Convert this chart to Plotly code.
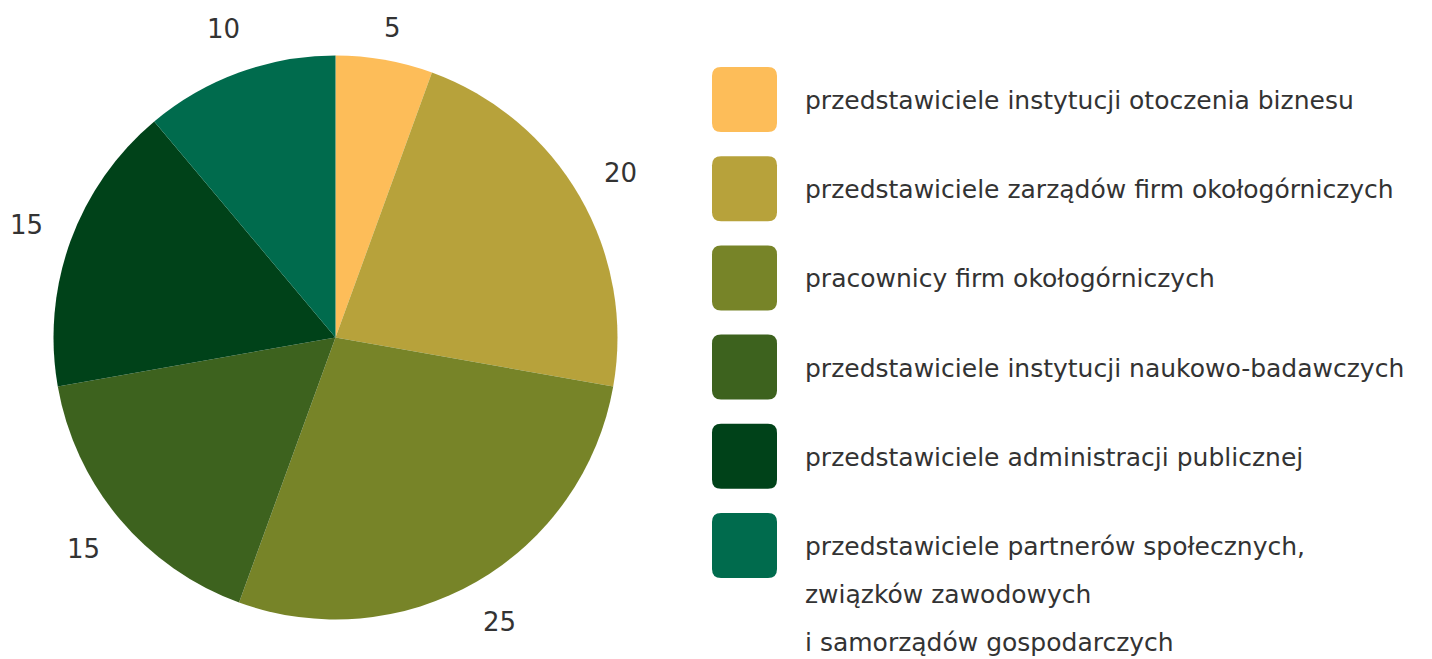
import math
import plotly.graph_objects as go

categories = [
    "przedstawiciele instytucji otoczenia biznesu",
    "przedstawiciele zarządów firm okołogórniczych",
    "pracownicy firm okołogórniczych",
    "przedstawiciele instytucji naukowo-badawczych",
    "przedstawiciele administracji publicznej",
    "przedstawiciele partnerów społecznych,<br>związków zawodowych<br>i samorządów gospodarczych",
]
values = [5, 20, 25, 15, 15, 10]
colors = ["#FDBD59", "#B7A23B", "#778428", "#3D621E", "#004219", "#006B4D"]

# page body has an 8px margin; the figure is offset by it
OFF = 8
W, H = 1432 - OFF, 659 - OFF
CX, CY, R = 335.5 - OFF, 337.5 - OFF, 282.0
FONT = "'DejaVu Sans', sans-serif"
TXT = "#333333"

fig = go.Figure(go.Pie(
    labels=categories, values=values, sort=False, direction="clockwise",
    rotation=0, marker=dict(colors=colors, line=dict(width=0)),
    textinfo="none", hoverinfo="label+value", showlegend=False,
    domain=dict(x=[(CX - R) / W, (CX + R) / W], y=[1 - (CY + R) / H, 1 - (CY - R) / H]),
))

annotations = []
shapes = []
total = sum(values)
cum = 0
for v in values:
    mid = (cum + v / 2) / total * 2 * math.pi
    cum += v
    lr = R * 1.165
    px = CX + lr * math.sin(mid)
    py = max(CY - lr * math.cos(mid), 20)  # keep label inside the top edge
    annotations.append(dict(x=px, y=py, xref="x", yref="y",
                            text=str(v), showarrow=False,
                            font=dict(family=FONT, size=26, color=TXT),
                            xanchor="center", yanchor="middle"))

# legend
LX, LY0, S, STEP, RAD = 712 - OFF, 67 - OFF, 65, 89.2, 9
TX = 803 - OFF
for i, (lab, col) in enumerate(zip(categories, colors)):
    y0 = LY0 + i * STEP
    x0 = LX
    x1, y1 = x0 + S, y0 + S
    r = RAD
    path = (f"M {x0+r},{y0} L {x1-r},{y0} Q {x1},{y0} {x1},{y0+r} "
            f"L {x1},{y1-r} Q {x1},{y1} {x1-r},{y1} L {x0+r},{y1} "
            f"Q {x0},{y1} {x0},{y1-r} L {x0},{y0+r} Q {x0},{y0} {x0+r},{y0} Z")
    shapes.append(dict(type="path", xref="x", yref="y", path=path,
                       fillcolor=col, line=dict(width=0)))
    lines = lab.split("<br>")
    for j, ln in enumerate(lines):
        ty = y0 + S / 2 + 1 + j * 48
        annotations.append(dict(x=TX, y=ty, xref="x", yref="y", text=ln,
                                showarrow=False, xanchor="left", yanchor="middle",
                                font=dict(family=FONT, size=25, color=TXT)))

fig.update_layout(
    width=W, height=H, margin=dict(l=0, r=0, t=0, b=0),
    paper_bgcolor="white", plot_bgcolor="white",
    xaxis=dict(range=[0, W], visible=False, fixedrange=True),
    yaxis=dict(range=[H, 0], visible=False, fixedrange=True),
    shapes=shapes, annotations=annotations,
)
fig.write_html("out.html")
